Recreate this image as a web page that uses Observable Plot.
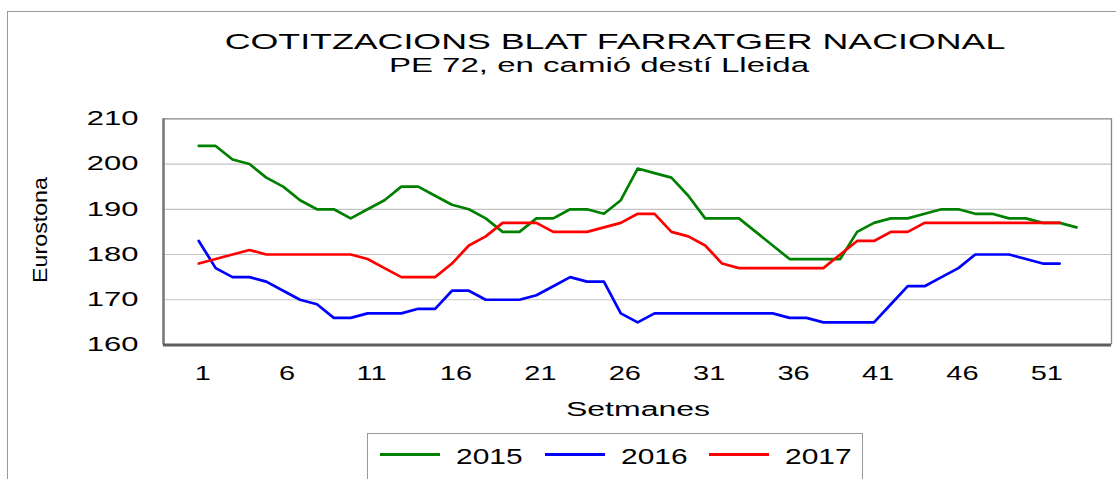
<!DOCTYPE html>
<html><head><meta charset="utf-8">
<script src="https://cdn.jsdelivr.net/npm/d3@7"></script>
<script src="https://cdn.jsdelivr.net/npm/@observablehq/plot@0.6"></script>
<style>
html,body{margin:0;padding:0;background:#fff;}
#root{position:relative;width:1116px;height:479px;overflow:hidden;font-family:"Liberation Sans",Arial,sans-serif;color:#000;}
.abs{position:absolute;white-space:nowrap;line-height:1;}
#outer{position:absolute;left:7px;top:11px;width:1200px;height:600px;border-left:1px solid #9a9a9a;border-top:1px solid #9a9a9a;}
#chart{position:absolute;left:0;top:100px;}
#legend{position:absolute;left:367px;top:433px;width:496px;height:60px;border:1px solid #9a9a9a;box-sizing:border-box;}
.sw{position:absolute;height:2.6px;width:60px;}
</style></head>
<body><div id="root">
<div id="outer"></div>
<div class="abs" id="title" style="left:614.5px;top:30.7px;font-size:22px;transform:translateX(-50%) scaleX(1.625);">COTITZACIONS BLAT FARRATGER NACIONAL</div>
<div class="abs" id="subtitle" style="left:599px;top:55px;font-size:20.5px;transform:translateX(-50%) scaleX(1.61);">PE 72, en camió destí Lleida</div>
<div id="chart"></div>
<div class="abs" id="ylabel" style="left:40px;top:229.7px;font-size:20px;transform:translate(-50%,-50%) rotate(-90deg) scaleX(1.16);">Eurostona</div>
<div class="abs" id="xlabel" style="left:638px;top:399px;font-size:20px;transform:translateX(-50%) scaleX(1.6);">Setmanes</div>
<div id="legend"></div>
</div>
<script>
// ---- data ----
const years = ["2015", "2016", "2017"];
const seriesColors = ["#008000", "#0000ff", "#ff0000"];
const xTicks = [1, 6, 11, 16, 21, 26, 31, 36, 41, 46, 51];
const yTicks = [160, 170, 180, 190, 200, 210];
const gridValues = [170, 180, 190, 200];
const values2015 = [204, 204, 201, 200, 197, 195, 192, 190, 190, 188,
                    190, 192, 195, 195, 193, 191, 190, 188, 185, 185,
                    188, 188, 190, 190, 189, 192, 199, 198, 197, 193,
                    188, 188, 188, 185, 182, 179, 179, 179, 179, 185,
                    187, 188, 188, 189, 190, 190, 189, 189, 188, 188,
                    187, 187, 186];
const values2016 = [183, 177, 175, 175, 174, 172, 170, 169, 166, 166,
                    167, 167, 167, 168, 168, 172, 172, 170, 170, 170,
                    171, 173, 175, 174, 174, 167, 165, 167, 167, 167,
                    167, 167, 167, 167, 167, 166, 166, 165, 165, 165,
                    165, 169, 173, 173, 175, 177, 180, 180, 180, 179,
                    178, 178];
const values2017 = [178, 179, 180, 181, 180, 180, 180, 180, 180, 180,
                    179, 177, 175, 175, 175, 178, 182, 184, 187, 187,
                    187, 185, 185, 185, 186, 187, 189, 189, 185, 184,
                    182, 178, 177, 177, 177, 177, 177, 177, 180, 183,
                    183, 185, 185, 187, 187, 187, 187, 187, 187, 187,
                    187, 187];

const rows = [];
[values2015, values2016, values2017].forEach((vals, k) =>
  vals.forEach((v, i) => rows.push({week: i + 1, value: v, year: years[k]})));

const xDomain = [-1.09, 55.07];

const chart = Plot.plot({
  width: 1116,
  height: 330,
  marginTop: 18.3,
  marginBottom: 85.5,
  marginLeft: 163,
  marginRight: 5,
  x: {type: "linear", domain: xDomain},
  y: {domain: [160, 210]},
  color: {domain: years, range: seriesColors},
  style: {fontFamily: "'Liberation Sans', Arial, sans-serif", fontSize: "20px", color: "#000", background: "transparent", overflow: "visible"},
  marks: [
    Plot.ruleY(gridValues, {stroke: "#c4c4c4", strokeWidth: 1.2}),
    Plot.ruleY([210], {stroke: "#858585", strokeWidth: 1.3}),
    Plot.ruleX([xDomain[1]], {stroke: "#858585", strokeWidth: 1.3}),
    Plot.line(rows, {x: "week", y: "value", z: "year", stroke: "year", strokeWidth: 2.7}),
    Plot.ruleX([xDomain[0]], {stroke: "#7a7a7a", strokeWidth: 2.6}),
    Plot.ruleY([160], {stroke: "#5c5c5c", strokeWidth: 3}),
    Plot.axisX({ticks: xTicks, tickSize: 0, tickPadding: 21, dx: 4, fontSize: 20, label: null}),
    Plot.axisY({ticks: yTicks, tickSize: 0, tickPadding: 25, fontSize: 20, label: null})
  ]
});
document.getElementById("chart").appendChild(chart);

// horizontal stretch of the tick labels (the reference text is wide)
chart.querySelectorAll("text").forEach(t => {
  const g = t.closest("g[aria-label]");
  const lab = g ? g.getAttribute("aria-label") : "";
  const s = lab.startsWith("y") ? 1.55 : 1.45;
  const x0 = parseFloat(t.getAttribute("x")) || 0;
  const tr = t.getAttribute("transform") || "";
  t.setAttribute("transform", `${tr} translate(${x0},0) scale(${s},1) translate(${-x0},0)`);
});

// legend
const legend = document.getElementById("legend");
const swatchX = [380, 545, 709.3];
const labelX = [456, 620.7, 785];
years.forEach((y, i) => {
  const sw = document.createElement("div");
  sw.className = "sw";
  sw.style.left = (swatchX[i] - 368) + "px";
  sw.style.top = (454.3 - 1.3 - 434) + "px";
  sw.style.background = seriesColors[i];
  legend.appendChild(sw);
  const lb = document.createElement("div");
  lb.className = "abs";
  lb.textContent = y;
  lb.style.fontSize = "22px";
  lb.style.left = (labelX[i] - 368) + "px";
  lb.style.top = (465 - 18.6 - 434) + "px";
  lb.style.transformOrigin = "0 0";
  lb.style.transform = "scaleX(1.36)";
  legend.appendChild(lb);
});
</script>
</body></html>
